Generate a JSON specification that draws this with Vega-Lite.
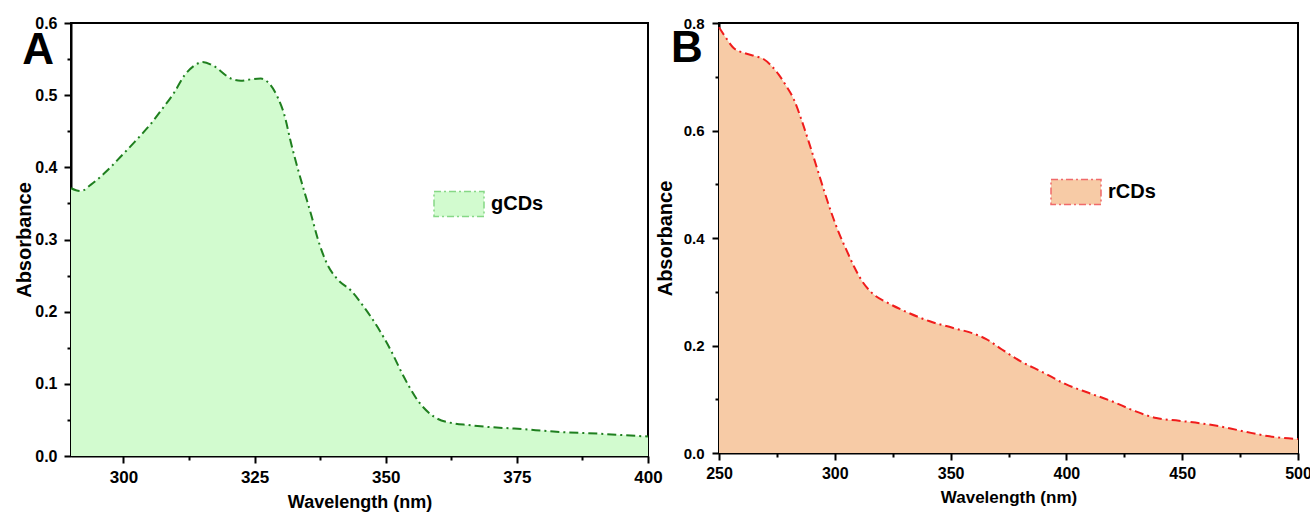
{
  "$schema": "https://vega.github.io/schema/vega-lite/v6.json",
  "background": "white",
  "padding": {"left": 13, "top": 14, "right": 0, "bottom": 0},
  "datasets": {
    "gcds": [
      {"wavelength": 290, "absorbance": 0.371, "sample": "gCDs"},
      {"wavelength": 291.9, "absorbance": 0.367, "sample": "gCDs"},
      {"wavelength": 293.8, "absorbance": 0.376, "sample": "gCDs"},
      {"wavelength": 296.4, "absorbance": 0.392, "sample": "gCDs"},
      {"wavelength": 299.5, "absorbance": 0.415, "sample": "gCDs"},
      {"wavelength": 302.1, "absorbance": 0.435, "sample": "gCDs"},
      {"wavelength": 305.3, "absorbance": 0.461, "sample": "gCDs"},
      {"wavelength": 307.2, "absorbance": 0.479, "sample": "gCDs"},
      {"wavelength": 309.7, "absorbance": 0.504, "sample": "gCDs"},
      {"wavelength": 311.6, "absorbance": 0.527, "sample": "gCDs"},
      {"wavelength": 313.5, "absorbance": 0.541, "sample": "gCDs"},
      {"wavelength": 315.1, "absorbance": 0.546, "sample": "gCDs"},
      {"wavelength": 317.3, "absorbance": 0.540, "sample": "gCDs"},
      {"wavelength": 320.5, "absorbance": 0.523, "sample": "gCDs"},
      {"wavelength": 322.4, "absorbance": 0.520, "sample": "gCDs"},
      {"wavelength": 324.3, "absorbance": 0.522, "sample": "gCDs"},
      {"wavelength": 326.2, "absorbance": 0.523, "sample": "gCDs"},
      {"wavelength": 327.8, "absorbance": 0.516, "sample": "gCDs"},
      {"wavelength": 329.4, "absorbance": 0.497, "sample": "gCDs"},
      {"wavelength": 330.7, "absorbance": 0.472, "sample": "gCDs"},
      {"wavelength": 331.9, "absorbance": 0.435, "sample": "gCDs"},
      {"wavelength": 333.2, "absorbance": 0.399, "sample": "gCDs"},
      {"wavelength": 334.5, "absorbance": 0.366, "sample": "gCDs"},
      {"wavelength": 335.8, "absorbance": 0.334, "sample": "gCDs"},
      {"wavelength": 337.0, "absorbance": 0.302, "sample": "gCDs"},
      {"wavelength": 338.9, "absorbance": 0.265, "sample": "gCDs"},
      {"wavelength": 340.8, "absorbance": 0.245, "sample": "gCDs"},
      {"wavelength": 343.4, "absorbance": 0.229, "sample": "gCDs"},
      {"wavelength": 345.9, "absorbance": 0.206, "sample": "gCDs"},
      {"wavelength": 348.5, "absorbance": 0.178, "sample": "gCDs"},
      {"wavelength": 351.0, "absorbance": 0.146, "sample": "gCDs"},
      {"wavelength": 353.5, "absorbance": 0.109, "sample": "gCDs"},
      {"wavelength": 356.1, "absorbance": 0.077, "sample": "gCDs"},
      {"wavelength": 359.3, "absorbance": 0.054, "sample": "gCDs"},
      {"wavelength": 363.1, "absorbance": 0.045, "sample": "gCDs"},
      {"wavelength": 365.6, "absorbance": 0.043, "sample": "gCDs"},
      {"wavelength": 370.0, "absorbance": 0.040, "sample": "gCDs"},
      {"wavelength": 374.5, "absorbance": 0.038, "sample": "gCDs"},
      {"wavelength": 384.0, "absorbance": 0.033, "sample": "gCDs"},
      {"wavelength": 390.5, "absorbance": 0.031, "sample": "gCDs"},
      {"wavelength": 395.0, "absorbance": 0.029, "sample": "gCDs"},
      {"wavelength": 400.0, "absorbance": 0.027, "sample": "gCDs"}
    ],
    "rcds": [
      {"wavelength": 250, "absorbance": 0.792, "sample": "rCDs"},
      {"wavelength": 252.9, "absorbance": 0.773, "sample": "rCDs"},
      {"wavelength": 256.2, "absorbance": 0.754, "sample": "rCDs"},
      {"wavelength": 261.1, "absorbance": 0.744, "sample": "rCDs"},
      {"wavelength": 266.0, "absorbance": 0.738, "sample": "rCDs"},
      {"wavelength": 269.2, "absorbance": 0.733, "sample": "rCDs"},
      {"wavelength": 272.5, "absorbance": 0.721, "sample": "rCDs"},
      {"wavelength": 275.8, "absorbance": 0.704, "sample": "rCDs"},
      {"wavelength": 279.0, "absorbance": 0.683, "sample": "rCDs"},
      {"wavelength": 282.3, "absorbance": 0.658, "sample": "rCDs"},
      {"wavelength": 285.6, "absorbance": 0.620, "sample": "rCDs"},
      {"wavelength": 288.9, "absorbance": 0.577, "sample": "rCDs"},
      {"wavelength": 292.1, "absorbance": 0.533, "sample": "rCDs"},
      {"wavelength": 295.3, "absorbance": 0.489, "sample": "rCDs"},
      {"wavelength": 298.6, "absorbance": 0.446, "sample": "rCDs"},
      {"wavelength": 301.9, "absorbance": 0.408, "sample": "rCDs"},
      {"wavelength": 305.1, "absorbance": 0.377, "sample": "rCDs"},
      {"wavelength": 308.4, "absorbance": 0.346, "sample": "rCDs"},
      {"wavelength": 311.6, "absorbance": 0.321, "sample": "rCDs"},
      {"wavelength": 316.5, "absorbance": 0.296, "sample": "rCDs"},
      {"wavelength": 323.0, "absorbance": 0.279, "sample": "rCDs"},
      {"wavelength": 331.2, "absorbance": 0.262, "sample": "rCDs"},
      {"wavelength": 341.0, "absorbance": 0.245, "sample": "rCDs"},
      {"wavelength": 350.8, "absorbance": 0.233, "sample": "rCDs"},
      {"wavelength": 360.6, "absorbance": 0.221, "sample": "rCDs"},
      {"wavelength": 365.4, "absorbance": 0.212, "sample": "rCDs"},
      {"wavelength": 372.0, "absorbance": 0.193, "sample": "rCDs"},
      {"wavelength": 380.1, "absorbance": 0.171, "sample": "rCDs"},
      {"wavelength": 389.9, "absorbance": 0.150, "sample": "rCDs"},
      {"wavelength": 399.7, "absorbance": 0.128, "sample": "rCDs"},
      {"wavelength": 409.5, "absorbance": 0.112, "sample": "rCDs"},
      {"wavelength": 419.2, "absorbance": 0.097, "sample": "rCDs"},
      {"wavelength": 429.0, "absorbance": 0.079, "sample": "rCDs"},
      {"wavelength": 438.8, "absorbance": 0.065, "sample": "rCDs"},
      {"wavelength": 448.6, "absorbance": 0.060, "sample": "rCDs"},
      {"wavelength": 458.4, "absorbance": 0.055, "sample": "rCDs"},
      {"wavelength": 468.2, "absorbance": 0.048, "sample": "rCDs"},
      {"wavelength": 477.9, "absorbance": 0.039, "sample": "rCDs"},
      {"wavelength": 487.7, "absorbance": 0.031, "sample": "rCDs"},
      {"wavelength": 500, "absorbance": 0.026, "sample": "rCDs"}
    ]
  },
  "config": {
    "font": "Liberation Sans",
    "view": {"stroke": "black", "strokeWidth": 2},
    "axis": {
      "grid": false,
      "labelFlush": false,
      "labelOverlap": false,
      "domainColor": "black",
      "domainWidth": 2,
      "tickColor": "black",
      "tickWidth": 2,
      "tickSize": 7,
      "labelFont": "Liberation Sans",
      "labelFontWeight": "bold",
      "labelColor": "black",
      "titleFont": "Liberation Sans",
      "titleFontWeight": "bold",
      "titleColor": "black"
    },
    "legend": {
      "orient": "none",
      "title": null,
      "padding": 0,
      "symbolType": "M-1,-0.5H1V0.5H-1Z",
      "symbolSize": 2500,
      "symbolStrokeWidth": 1.5,
      "symbolDash": [7, 3, 2, 3],
      "labelFont": "Liberation Sans",
      "labelFontSize": 20,
      "labelFontWeight": "bold",
      "labelColor": "black",
      "labelOffset": 6
    }
  },
  "hconcat": [
    {
      "width": 577,
      "height": 433,
      "resolve": {"axis": {"x": "independent", "y": "independent"}},
      "layer": [
        {
          "data": {"name": "gcds"},
          "mark": {"type": "area", "interpolate": "monotone"},
          "encoding": {
            "x": {"field": "wavelength", "type": "quantitative", "scale": {"domain": [290, 400], "nice": false, "zero": false},
                  "axis": {"orient": "bottom", "values": [300, 325, 350, 375, 400], "title": "Wavelength (nm)", "labelFontSize": 17, "labelPadding": 6, "titleFontSize": 18, "titlePadding": 8}},
            "y": {"field": "absorbance", "type": "quantitative", "scale": {"domain": [0, 0.6], "nice": false},
                  "axis": {"orient": "left", "values": [0, 0.1, 0.2, 0.3, 0.4, 0.5, 0.6], "format": ".1f", "title": "Absorbance", "labelFontSize": 16, "labelPadding": 7, "titleFontSize": 20, "titlePadding": 0}},
            "fill": {"field": "sample", "type": "nominal", "scale": {"domain": ["gCDs"], "range": ["#d2fbcf"]},
                     "legend": {"legendX": 362, "legendY": 155, "symbolStrokeColor": "#86d886", "symbolFillColor": "#d2fbcf",
                                "encode": {"symbols": {"update": {"stroke": {"value": "#86d886"}, "strokeDash": {"value": [7, 3, 2, 3]}, "strokeWidth": {"value": 1.5}, "opacity": {"value": 1}}}}}}
          }
        },
        {
          "data": {"name": "gcds"},
          "mark": {"type": "line", "interpolate": "monotone", "color": "#1f7f1f", "strokeWidth": 2, "strokeDash": [9, 4, 2, 4]},
          "encoding": {
            "x": {"field": "wavelength", "type": "quantitative",
                  "axis": {"orient": "bottom", "values": [312.5, 337.5, 362.5, 387.5], "labels": false, "title": null, "tickSize": 4, "domain": false}},
            "y": {"field": "absorbance", "type": "quantitative",
                  "axis": {"orient": "left", "values": [0.05, 0.15, 0.25, 0.35, 0.45, 0.55], "labels": false, "title": null, "tickSize": 4, "domain": false}}
          }
        },
        {
          "data": {"values": [{"panel": "A"}]},
          "mark": {"type": "text", "align": "left", "baseline": "alphabetic", "fontSize": 44, "fontWeight": "bold", "font": "Liberation Sans", "color": "black"},
          "encoding": {
            "x": {"datum": 280.7, "type": "quantitative", "axis": null},
            "y": {"datum": 0.543, "type": "quantitative", "axis": null},
            "text": {"field": "panel"}
          }
        }
      ]
    },
    {
      "width": 579,
      "height": 430,
      "resolve": {"axis": {"x": "independent", "y": "independent"}},
      "layer": [
        {
          "data": {"name": "rcds"},
          "mark": {"type": "area", "interpolate": "monotone"},
          "encoding": {
            "x": {"field": "wavelength", "type": "quantitative", "scale": {"domain": [250, 500], "nice": false, "zero": false},
                  "axis": {"orient": "bottom", "values": [250, 300, 350, 400, 450, 500], "title": "Wavelength (nm)", "labelFontSize": 16, "labelPadding": 5, "titleFontSize": 17, "titlePadding": 8}},
            "y": {"field": "absorbance", "type": "quantitative", "scale": {"domain": [0, 0.8], "nice": false},
                  "axis": {"orient": "left", "values": [0, 0.2, 0.4, 0.6, 0.8], "format": ".1f", "title": "Absorbance", "labelFontSize": 15, "labelPadding": 8, "titleFontSize": 20, "titlePadding": 8}},
            "fill": {"field": "sample", "type": "nominal", "scale": {"domain": ["rCDs"], "range": ["#f7cba6"]},
                     "legend": {"legendX": 331, "legendY": 143, "symbolStrokeColor": "#f06a6a", "symbolFillColor": "#f7cba6",
                                "encode": {"symbols": {"update": {"stroke": {"value": "#f06a6a"}, "strokeDash": {"value": [7, 3, 2, 3]}, "strokeWidth": {"value": 1.5}, "opacity": {"value": 1}}}}}}
          }
        },
        {
          "data": {"name": "rcds"},
          "mark": {"type": "line", "interpolate": "monotone", "color": "#f01c1c", "strokeWidth": 2, "strokeDash": [9, 4, 2, 4]},
          "encoding": {
            "x": {"field": "wavelength", "type": "quantitative",
                  "axis": {"orient": "bottom", "values": [275, 325, 375, 425, 475], "labels": false, "title": null, "tickSize": 4, "domain": false}},
            "y": {"field": "absorbance", "type": "quantitative",
                  "axis": {"orient": "left", "values": [0.1, 0.3, 0.5, 0.7], "labels": false, "title": null, "tickSize": 4, "domain": false}}
          }
        },
        {
          "data": {"values": [{"panel": "B"}]},
          "mark": {"type": "text", "align": "left", "baseline": "alphabetic", "fontSize": 44, "fontWeight": "bold", "font": "Liberation Sans", "color": "black"},
          "encoding": {
            "x": {"datum": 229.3, "type": "quantitative", "axis": null},
            "y": {"datum": 0.727, "type": "quantitative", "axis": null},
            "text": {"field": "panel"}
          }
        }
      ]
    }
  ],
  "spacing": 71,
  "bounds": "flush",
  "resolve": {"scale": {"fill": "independent"}}
}
